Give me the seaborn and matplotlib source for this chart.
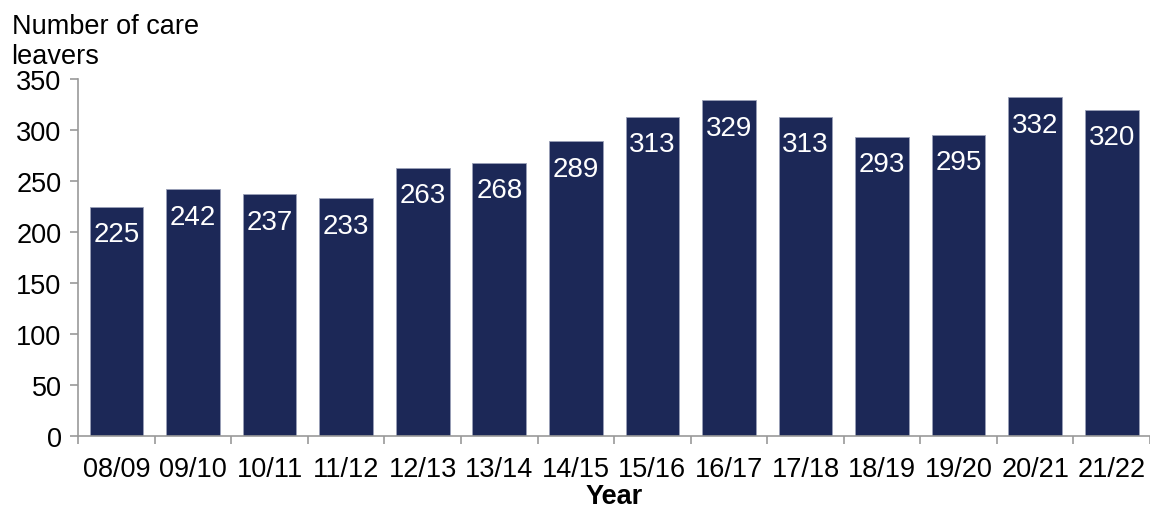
import seaborn as sns
import matplotlib.pyplot as plt
import numpy as np
import pandas as pd

years = ['08/09', '09/10', '10/11', '11/12', '12/13', '13/14', '14/15',
         '15/16', '16/17', '17/18', '18/19', '19/20', '20/21', '21/22']
leavers = [225, 242, 237, 233, 263, 268, 289, 313, 329, 313, 293, 295, 332, 320]

df = pd.DataFrame({'Year': years, 'Leavers': leavers})

sns.set_style('white')
plt.rcParams['font.family'] = ['Liberation Sans', 'DejaVu Sans']
plt.rcParams['text.color'] = 'black'
plt.rcParams['xtick.color'] = 'black'
plt.rcParams['ytick.color'] = 'black'
plt.rcParams['axes.labelcolor'] = 'black'

fig = plt.figure(figsize=(11.5, 5.1), dpi=100)
ax = fig.add_axes([0.068, 0.143, 0.932, 0.70])

sns.barplot(data=df, x='Year', y='Leavers', color='#1c2857', width=0.7,
            saturation=1, ax=ax, edgecolor='#9aa0b8', linewidth=0.6)

for i, v in enumerate(leavers):
    ax.text(i, v - 14, str(v), ha='center', va='top', color='white', fontsize=20)

ax.set_ylim(0, 350)
ax.set_xlim(-0.5, len(years) - 0.5)
ax.set_yticks(np.arange(0, 351, 50))
ax.tick_params(axis='y', left=True, labelsize=19.5, length=6, color='#999999',
               labelcolor='black', width=1.2, pad=6)
ax.tick_params(axis='x', which='major', labelsize=19.5, length=0, pad=14,
               labelcolor='black')
ax.set_xticks(np.arange(-0.5, len(years), 1), minor=True)
ax.tick_params(axis='x', which='minor', bottom=True, length=6, color='#999999', width=1.2)

for s in ['top', 'right']:
    ax.spines[s].set_visible(False)
for s in ['left', 'bottom']:
    ax.spines[s].set_color('#999999')
    ax.spines[s].set_linewidth(1.2)

ax.set_xlabel('Year', fontsize=19.5, fontweight='bold', labelpad=1)
ax.set_ylabel('')
fig.text(0.01, 0.972, 'Number of care\nleavers', ha='left', va='top', fontsize=19.5,
         linespacing=1.2)

fig.savefig('out.png', dpi=100)
